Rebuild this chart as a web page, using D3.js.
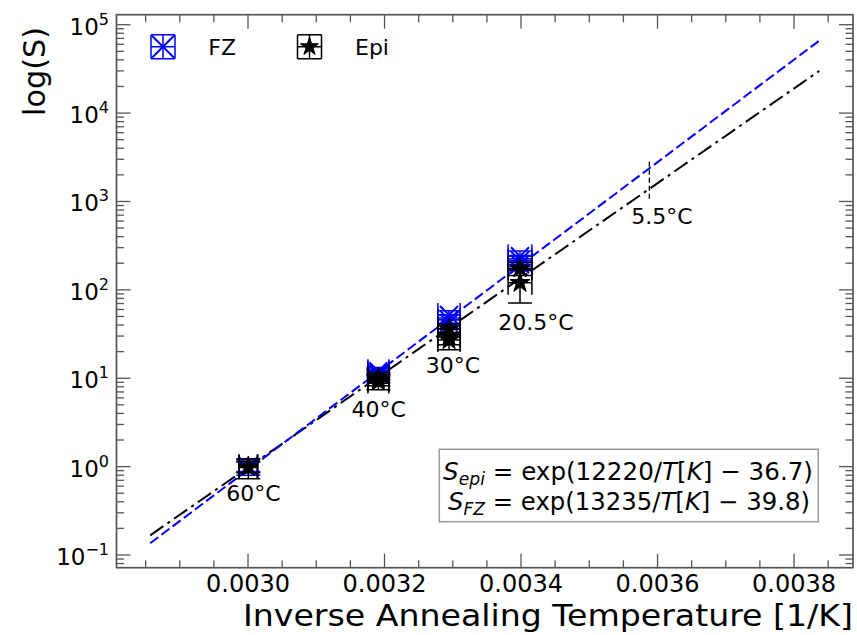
<!DOCTYPE html>
<html><head><meta charset="utf-8">
<script src="https://cdn.jsdelivr.net/npm/d3@7"></script>
<style>body{margin:0;background:#fff} text{font-family:"DejaVu Sans",sans-serif}</style>
</head><body><svg id="c" width="857" height="635"></svg>
<script>
// ---------------- data ----------------
const temperatureLabels = ["60°C", "40°C", "30°C", "20.5°C"];
const inverseTemp = [0.0030004, 0.0031910, 0.0032945, 0.0033985];   // 1/K
const inverseTempErr = [0.0000135, 0.0000153, 0.0000163, 0.0000174];
const fzValues = [[1.0, 1.0], [12.0, 11.5, 11.0], [52, 46, 42], [240, 215, 195]];
const fzErrors = [[0.12, 0.2], [1.2, 1.2, 1.3], [6, 6, 6], [35, 30, 30]];
const epiValues = [[1.0, 0.98], [10.2, 9.6, 9.2], [36, 30, 27], [175, 120]];
const epiErrors = [[0.15, 0.25], [1.4, 1.4, 1.8], [5, 6, 6], [30, 49]];
const fitX = [0.0028567, 0.0038370];
const epiFitS = [0.167, 30000];
const fzFitS = [0.136, 66000];
const labelX = [0.0030078, 0.0031915, 0.0033001, 0.0034220];
const labelS = [0.409, 3.68, 11.4, 35.2];
const markerTemp = "5.5°C";
const markerX = 0.0035880;
const markerS = [2820, 995];
const markerLabelX = 0.0036066;
const markerLabelS = 556;
const xTicks = [0.0030, 0.0032, 0.0034, 0.0036, 0.0038];
const yTickExponents = [-1, 0, 1, 2, 3, 4, 5];
const legendNames = ["FZ", "Epi"];
const fitTexts = ["epi", "FZ"];
const fitSlopes = ["12220", "13235"];
const fitOffsets = ["36.7", "39.8"];

// ---------------- layout ----------------
const svg = d3.select("#c");
const L = 116.5, R = 853, T = 14.7, B = 567.7;
const x = d3.scaleLinear().domain([0.0028073, 0.0038864]).range([L, R]);
const y = d3.scaleLog().domain([Math.pow(10, -1.1437), Math.pow(10, 5.1131)]).range([B, T]);
const gray = "#555";
const cap = 12;

function fitWidth(sel, target) {
  const fs = +sel.attr("font-size");
  const w = sel.node().getComputedTextLength();
  if (w > 0) sel.attr("font-size", (fs * target / w).toFixed(2));
}

svg.append("defs").append("clipPath").attr("id", "clip")
  .append("rect").attr("x", L).attr("y", T).attr("width", R - L).attr("height", B - T);
const plot = svg.append("g").attr("clip-path", "url(#clip)");

// fit lines
const line = d3.line().x(d => x(d[0])).y(d => y(d[1]));
plot.append("path").datum(fitX.map((v, i) => [v, epiFitS[i]]))
  .attr("d", line).attr("fill", "none").attr("stroke", "#000").attr("stroke-width", 2)
  .attr("stroke-dasharray", "16,5,3,5");
plot.append("path").datum(fitX.map((v, i) => [v, fzFitS[i]]))
  .attr("d", line).attr("fill", "none").attr("stroke", "blue").attr("stroke-width", 2)
  .attr("stroke-dasharray", "10,4");

// 5.5 C marker
plot.append("line").attr("x1", x(markerX)).attr("x2", x(markerX))
  .attr("y1", y(markerS[0])).attr("y2", y(markerS[1]))
  .attr("stroke", "#000").attr("stroke-width", 1.3).attr("stroke-dasharray", "5,3");
svg.append("text").attr("x", x(markerLabelX)).attr("y", y(markerLabelS))
  .attr("text-anchor", "middle").attr("font-size", 22).text(markerTemp);

function starPath(r) {
  const pts = [];
  for (let i = 0; i < 10; i++) {
    const a = -Math.PI / 2 + i * Math.PI / 5;
    const rr = i % 2 === 0 ? r : r * 0.382;
    pts.push([rr * Math.cos(a), rr * Math.sin(a)]);
  }
  return "M" + pts.map(p => p[0].toFixed(2) + "," + p[1].toFixed(2)).join("L") + "Z";
}
function drawX(g, cx, cy, color, h) {
  g.append("path").attr("d", `M${cx - h},${cy - h}L${cx + h},${cy + h}M${cx - h},${cy + h}L${cx + h},${cy - h}`)
    .attr("stroke", color).attr("stroke-width", 2).attr("fill", "none");
}
function drawStar(g, cx, cy, r) {
  g.append("path").attr("d", starPath(r)).attr("transform", `translate(${cx},${cy})`)
    .attr("fill", "#000").attr("stroke", "#000").attr("stroke-width", 1);
}
function errBar(g, cx, cy, x0, x1, y0, y1, color) {
  const p = `M${cx},${y0}L${cx},${y1}M${cx - cap},${y0}L${cx + cap},${y0}M${cx - cap},${y1}L${cx + cap},${y1}` +
            `M${x0},${cy}L${x1},${cy}M${x0},${cy - cap}L${x0},${cy + cap}M${x1},${cy - cap}L${x1},${cy + cap}`;
  g.append("path").attr("d", p).attr("stroke", color).attr("stroke-width", 1.5).attr("fill", "none");
}

function drawSeries(values, errors, color, kind) {
  values.forEach((vals, ti) => {
    vals.forEach((v, k) => {
      const e = errors[ti][k];
      const cx = x(inverseTemp[ti]), cy = y(v);
      errBar(plot, cx, cy, x(inverseTemp[ti] - inverseTempErr[ti]), x(inverseTemp[ti] + inverseTempErr[ti]),
        y(v + e), y(Math.max(v - e, 1e-3)), color);
      if (kind === "x") drawX(plot, cx, cy, color, 9);
      else drawStar(plot, cx, cy, 10.5);
    });
  });
}
drawSeries(fzValues, fzErrors, "blue", "x");
drawSeries(epiValues, epiErrors, "#000", "star");

// temperature labels
temperatureLabels.forEach((t, i) => {
  svg.append("text").attr("x", x(labelX[i])).attr("y", y(labelS[i]))
    .attr("text-anchor", "middle").attr("font-size", 22).text(t);
});

// frame
svg.append("rect").attr("x", L).attr("y", T).attr("width", R - L).attr("height", B - T)
  .attr("fill", "none").attr("stroke", gray).attr("stroke-width", 1.7);

// ticks (inward, all sides)
const xMinor = d3.range(0.00285, 0.00388, 0.00005);
const ticks = svg.append("g").attr("stroke", gray).attr("stroke-width", 1.3);
xMinor.forEach(v => {
  const major = xTicks.some(t => Math.abs(t - v) < 1e-9);
  const len = major ? 14 : 7.5;
  const px = x(v);
  ticks.append("line").attr("x1", px).attr("x2", px).attr("y1", B).attr("y2", B - len);
  ticks.append("line").attr("x1", px).attr("x2", px).attr("y1", T).attr("y2", T + len);
});
xTicks.forEach(v => {
  svg.append("text").attr("x", x(v)).attr("y", B + 24.5).attr("text-anchor", "middle")
    .attr("font-size", 24).text(v.toFixed(4));
});
for (let e = -2; e <= 5; e++) {
  for (let m = 1; m <= 9; m++) {
    const v = m * Math.pow(10, e);
    if (v < y.domain()[0] || v > y.domain()[1]) continue;
    const len = m === 1 ? 14 : 7.5;
    const py = y(v);
    ticks.append("line").attr("x1", L).attr("x2", L + len).attr("y1", py).attr("y2", py);
    ticks.append("line").attr("x1", R).attr("x2", R - len).attr("y1", py).attr("y2", py);
  }
}
yTickExponents.forEach(e => {
  const t = svg.append("text").attr("x", 109).attr("y", y(Math.pow(10, e)) + 10)
    .attr("text-anchor", "end").attr("font-size", 23);
  t.append("tspan").text("10");
  t.append("tspan").attr("dy", -10).attr("font-size", 16).text(e < 0 ? "\u2212" + (-e) : String(e));
});

// axis labels
svg.append("text").attr("x", R).attr("y", 626).attr("text-anchor", "end")
  .attr("font-size", 30).attr("textLength", 610).attr("lengthAdjust", "spacingAndGlyphs")
  .text("Inverse Annealing Temperature [1/K]");
const yl = svg.append("text").attr("transform", `translate(45,27) rotate(-90)`).attr("text-anchor", "end")
  .attr("font-size", 31).text("log(S)");
fitWidth(yl, 89);

// legend
const lg = svg.append("g");
[[163, "blue", "x"], [309.5, "#000", "star"]].forEach(([cx, color, kind], i) => {
  const cy = 46.7;
  const h = 12;
  const p = `M${cx},${cy - h}L${cx},${cy + h}M${cx - h},${cy - h}L${cx + h},${cy - h}M${cx - h},${cy + h}L${cx + h},${cy + h}` +
            `M${cx - h},${cy}L${cx + h},${cy}M${cx - h},${cy - h}L${cx - h},${cy + h}M${cx + h},${cy - h}L${cx + h},${cy + h}`;
  lg.append("path").attr("d", p).attr("stroke", color).attr("stroke-width", 1.5).attr("fill", "none");
  if (kind === "x") drawX(lg, cx, cy, color, 11);
  else drawStar(lg, cx, cy, 9.5);
  lg.append("text").attr("x", i === 0 ? 208.3 : 355).attr("y", cy + 8.5).attr("font-size", 22).text(legendNames[i]);
});

// fit formula box
const bx = svg.append("g");
bx.append("rect").attr("x", 439.3).attr("y", 449.3).attr("width", 379).attr("height", 72.4)
  .attr("fill", "#fff").attr("stroke", "#999").attr("stroke-width", 1.5);
const targetW = [370, 362];
const centers = [628, 629];
fitTexts.forEach((sub, i) => {
  const t = bx.append("text").attr("x", centers[i]).attr("y", i === 0 ? 480 : 510)
    .attr("text-anchor", "middle").attr("font-size", 22);
  t.append("tspan").attr("font-style", "italic").text("S");
  t.append("tspan").attr("font-style", "italic").attr("font-size", "0.7em").attr("dy", 5).text(sub);
  t.append("tspan").attr("dy", -5).text(" = exp(" + fitSlopes[i] + "/");
  t.append("tspan").attr("font-style", "italic").text("T");
  t.append("tspan").text("[");
  t.append("tspan").attr("font-style", "italic").text("K");
  t.append("tspan").text("] \u2212 " + fitOffsets[i] + ")");
  fitWidth(t, targetW[i]);
});
</script></body></html>
